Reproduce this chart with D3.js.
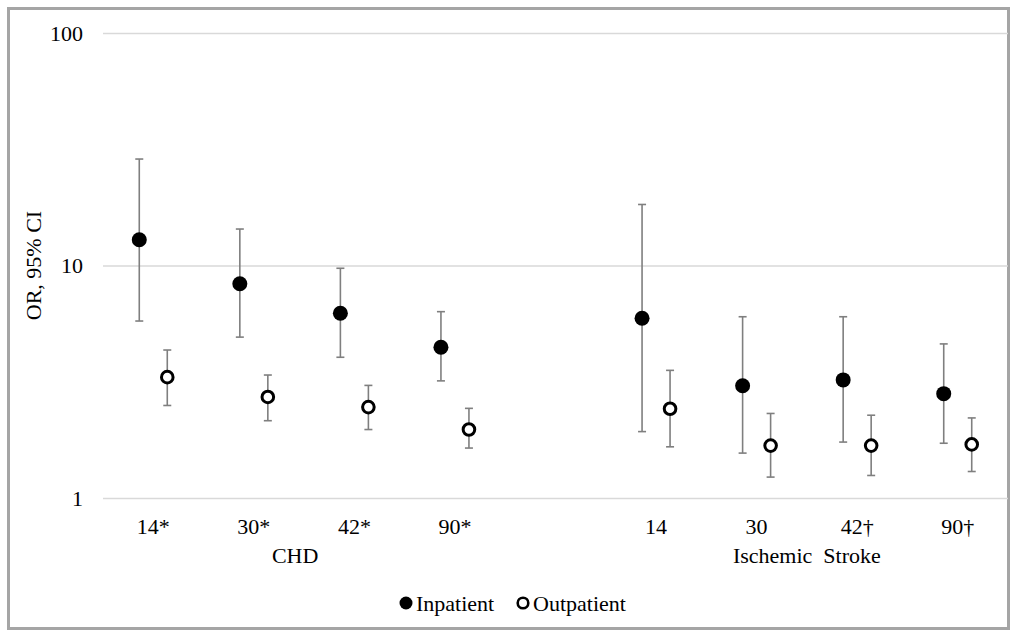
<!DOCTYPE html>
<html>
<head>
<meta charset="utf-8">
<script src="https://cdn.jsdelivr.net/npm/d3@7"></script>
<style>
  body { margin: 0; background: #fff; }
  text { font-family: "Liberation Serif", "Times New Roman", serif; fill: #000; }
</style>
</head>
<body>
<div id="chart"></div>
<script>
// days after infection, per outcome (blank slot separates the two outcomes)
var slots = ["14*", "30*", "42*", "90*", "gap", "14", "30", "42\u2020", "90\u2020"];
var periods = ["14*", "30*", "42*", "90*", "14", "30", "42\u2020", "90\u2020"];
var groupNames = ["CHD", "Ischemic\u00a0 Stroke"];
var groupOf = [0, 0, 0, 0, 1, 1, 1, 1];

var inpatientOR = [12.9, 8.35, 6.23, 4.45, 5.93, 3.04, 3.22, 2.81];
var inpatientLo = [5.77, 4.92, 4.03, 3.19, 1.93, 1.56, 1.74, 1.72];
var inpatientHi = [28.7, 14.35, 9.73, 6.33, 18.3, 6.02, 6.02, 4.60];

var outpatientOR = [3.31, 2.72, 2.46, 1.97, 2.42, 1.68, 1.68, 1.70];
var outpatientLo = [2.50, 2.15, 1.97, 1.64, 1.66, 1.23, 1.25, 1.30];
var outpatientHi = [4.33, 3.38, 3.05, 2.43, 3.54, 2.31, 2.27, 2.21];

var yTicks = [1, 10, 100];

var W = 1015, H = 635;
var margin = { top: 33, right: 7, bottom: 137, left: 103 };
var width = W - margin.left - margin.right,
    height = H - margin.top - margin.bottom;

var svg = d3.select("#chart").append("svg")
    .attr("width", W)
    .attr("height", H);

// outer frame
svg.append("rect")
    .attr("x", 8.5).attr("y", 8.5)
    .attr("width", 1000).attr("height", 620)
    .attr("fill", "none")
    .attr("stroke", "#a5a5a5")
    .attr("stroke-width", 3);

var g = svg.append("g")
    .attr("transform", "translate(" + margin.left + "," + margin.top + ")");

var x = d3.scaleBand().domain(slots).range([0, width]);
var y = d3.scaleLog().domain([1, 100]).range([height, 0]);
var offset = d3.scalePoint().domain(["Inpatient", "Outpatient"]).range([-14, 14]);

// gridlines
g.append("g")
    .call(d3.axisLeft(y).tickValues(yTicks).tickSize(-width).tickFormat(""))
    .call(function (s) { s.select(".domain").remove(); })
    .selectAll("line")
    .attr("stroke", "#d9d9d9")
    .attr("stroke-width", 1.3);

// y axis labels
g.append("g")
    .call(d3.axisLeft(y).tickValues(yTicks).tickSize(0).tickPadding(20).tickFormat(d3.format("d")))
    .call(function (s) { s.select(".domain").remove(); })
    .selectAll("text")
    .style("font-size", "22px")
    .style("font-family", "Liberation Serif");

g.append("text")
    .attr("transform", "rotate(-90)")
    .attr("x", -height / 2)
    .attr("y", -62)
    .attr("text-anchor", "middle")
    .style("font-size", "22px")
    .text("OR, 95% CI");

// x axis labels
var xAxis = g.append("g")
    .attr("transform", "translate(0," + height + ")")
    .call(d3.axisBottom(x).tickSize(0).tickPadding(20).tickFormat(function (d) { return d === "gap" ? "" : d; }));
xAxis.select(".domain").remove();
xAxis.selectAll("text")
    .style("font-size", "22px")
    .style("font-family", "Liberation Serif");

// outcome group labels
groupNames.forEach(function (name, gi) {
    var xs = periods.filter(function (p, i) { return groupOf[i] === gi; })
        .map(function (p) { return x(p) + x.bandwidth() / 2; });
    g.append("text")
        .attr("x", d3.mean(xs))
        .attr("dx", gi === 0 ? -9 : 0)
        .attr("y", height + 65)
        .attr("text-anchor", "middle")
        .style("font-size", "22px")
        .text(name);
});

function series(name, or, lo, hi) {
    return periods.map(function (p, i) {
        return { period: p, series: name, or: or[i], lo: lo[i], hi: hi[i] };
    });
}
var data = series("Inpatient", inpatientOR, inpatientLo, inpatientHi)
    .concat(series("Outpatient", outpatientOR, outpatientLo, outpatientHi));

function cx(d) { return x(d.period) + x.bandwidth() / 2 + offset(d.series); }

var bars = g.selectAll(".err").data(data).enter().append("g")
    .attr("class", "err")
    .attr("stroke", "#7f7f7f")
    .attr("stroke-width", 1.6);

bars.append("line")
    .attr("x1", cx).attr("x2", cx)
    .attr("y1", function (d) { return y(d.lo); })
    .attr("y2", function (d) { return y(d.hi); });
bars.append("line")
    .attr("x1", function (d) { return cx(d) - 4; })
    .attr("x2", function (d) { return cx(d) + 4; })
    .attr("y1", function (d) { return y(d.hi); })
    .attr("y2", function (d) { return y(d.hi); });
bars.append("line")
    .attr("x1", function (d) { return cx(d) - 4; })
    .attr("x2", function (d) { return cx(d) + 4; })
    .attr("y1", function (d) { return y(d.lo); })
    .attr("y2", function (d) { return y(d.lo); });

g.selectAll(".pt").data(data).enter().append("circle")
    .attr("class", "pt")
    .attr("cx", cx)
    .attr("cy", function (d) { return y(d.or); })
    .attr("r", function (d) { return d.series === "Inpatient" ? 7.5 : 5.8; })
    .attr("fill", function (d) { return d.series === "Inpatient" ? "#000" : "#fff"; })
    .attr("stroke", "#000")
    .attr("stroke-width", function (d) { return d.series === "Inpatient" ? 0 : 3; });

// legend
var legendItems = ["Inpatient", "Outpatient"];
var legend = svg.append("g").attr("transform", "translate(406,603)");
var lx = [0, 117];
legendItems.forEach(function (name, i) {
    var it = legend.append("g").attr("transform", "translate(" + lx[i] + ",0)");
    it.append("circle")
        .attr("r", i === 0 ? 6.5 : 5.3)
        .attr("fill", i === 0 ? "#000" : "#fff")
        .attr("stroke", "#000")
        .attr("stroke-width", i === 0 ? 0 : 2.6);
    it.append("text")
        .attr("x", 10)
        .attr("dy", "0.35em")
        .style("font-size", "22px")
        .text(name);
});
</script>
</body>
</html>
